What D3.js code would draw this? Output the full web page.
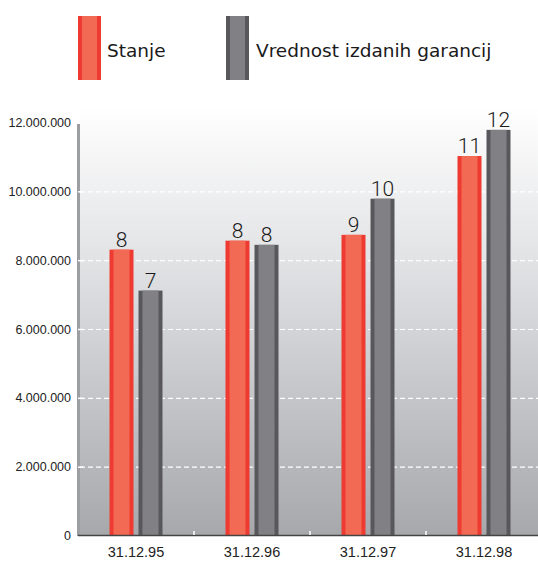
<!DOCTYPE html>
<html><head><meta charset="utf-8">
<script src="https://cdn.jsdelivr.net/npm/d3@7"></script>
<style>body{margin:0;background:#fff}svg{display:block}</style>
</head><body>
<script>
const categories = ["31.12.95","31.12.96","31.12.97","31.12.98"];
const seriesNames = ["Stanje","Vrednost izdanih garancij"];
const stanje = [8320000, 8580000, 8750000, 11040000];
const vrednost = [7130000, 8460000, 9800000, 11800000];
const stanjeLabels = ["8","8","9","11"];
const vrednostLabels = ["7","8","10","12"];
const yTicks = [0,2000000,4000000,6000000,8000000,10000000,12000000];

const W=538,H=561;
const svg=d3.select("body").append("svg").attr("width",W).attr("height",H);
const defs=svg.append("defs");
const g=defs.append("linearGradient").attr("id","bg").attr("x1",0).attr("y1",0).attr("x2",0).attr("y2",1);
g.append("stop").attr("offset","0%").attr("stop-color","#ffffff");
g.append("stop").attr("offset","35%").attr("stop-color","#e2e3e5");
g.append("stop").attr("offset","100%").attr("stop-color","#a7a8ac");

const x0=d3.scaleBand().domain(categories).range([78,542]).paddingInner(0).paddingOuter(0);
const y=d3.scaleLinear().domain([0,12000000]).range([536,123]);

// background
svg.append("rect").attr("x",80).attr("y",108).attr("width",W-80).attr("height",y(0)-108).attr("fill","url(#bg)");

// gridlines
svg.append("g").selectAll("line").data(yTicks.filter(d=>d>0)).join("line")
 .attr("x1",80).attr("x2",W).attr("y1",d=>y(d)).attr("y2",d=>y(d))
 .attr("stroke","#ffffff").attr("stroke-width",1.2).attr("stroke-dasharray","5,3")
 .attr("opacity",d=>d===12000000?0:1);

// y axis labels
const fmt=d=>d===0?"0":d3.format(",")(d).replace(/,/g,".");
svg.append("g").selectAll("text").data(yTicks).join("text")
 .attr("x",71).attr("y",d=>y(d)+4).attr("text-anchor","end")
 .attr("font-family","Liberation Sans, Arial, sans-serif").attr("font-size",12.5).attr("fill","#222")
 .text(fmt);

// bars
const colors=[{dark:"#ee3a31",light:"#f26a53"},{dark:"#58585c",light:"#808085"}];
const series=[stanje,vrednost];
const labels=[stanjeLabels,vrednostLabels];
const barW=24,gap=5;
series.forEach((vals,si)=>{
  const grp=svg.append("g");
  const xs=(c)=>x0(c)+x0.bandwidth()/2-barW-gap/2+si*(barW+gap);
  grp.selectAll("rect.o").data(categories).join("rect")
    .attr("x",c=>xs(c)).attr("y",(c,i)=>y(vals[i])).attr("width",barW)
    .attr("height",(c,i)=>y(0)-y(vals[i])).attr("fill",colors[si].dark);
  grp.selectAll("rect.i").data(categories).join("rect")
    .attr("x",c=>xs(c)+4).attr("y",(c,i)=>y(vals[i])).attr("width",barW-8)
    .attr("height",(c,i)=>y(0)-y(vals[i])).attr("fill",colors[si].light);
  grp.selectAll("text").data(categories).join("text")
    .attr("x",c=>xs(c)+barW/2).attr("y",(c,i)=>y(vals[i])-3)
    .attr("text-anchor","middle").attr("font-family","Roboto, Liberation Sans, sans-serif")
    .attr("font-weight",300)
    .attr("font-size",21).attr("fill","#1a1a1a")
    .text((c,i)=>labels[si][i]);
});

// vertical axis line
svg.append("line").attr("x1",78.5).attr("x2",78.5).attr("y1",124).attr("y2",y(0))
 .attr("stroke","#9d9ea2").attr("stroke-width",3);
// small white ticks at axis
svg.append("g").selectAll("line").data(yTicks.filter(d=>d>0&&d<12000000)).join("line")
 .attr("x1",78).attr("x2",83).attr("y1",d=>y(d)).attr("y2",d=>y(d)).attr("stroke","#fff").attr("stroke-width",1.5);

// baseline
svg.append("line").attr("x1",78).attr("x2",W).attr("y1",y(0)-0.5).attr("y2",y(0)-0.5)
 .attr("stroke","#444").attr("stroke-width",1.5);
// band ticks
svg.append("g").selectAll("line").data(categories.slice(1)).join("line")
 .attr("x1",c=>x0(c)).attr("x2",c=>x0(c)).attr("y1",y(0)-5).attr("y2",y(0)-1)
 .attr("stroke","#fff").attr("stroke-width",1.5);

// x labels
svg.append("g").selectAll("text").data(categories).join("text")
 .attr("x",c=>x0(c)+x0.bandwidth()/2).attr("y",557).attr("text-anchor","middle")
 .attr("font-family","Liberation Sans, Arial, sans-serif").attr("font-size",14.5).attr("fill","#222")
 .text(c=>c);

// legend
const legX=[78,226], legTextX=[107,256];
seriesNames.forEach((n,i)=>{
  svg.append("rect").attr("x",legX[i]).attr("y",16).attr("width",23).attr("height",64).attr("fill",colors[i].dark);
  svg.append("rect").attr("x",legX[i]+4).attr("y",16).attr("width",15).attr("height",64).attr("fill",colors[i].light);
  svg.append("text").attr("x",legTextX[i]).attr("y",57).attr("font-family","DejaVu Sans, sans-serif")
    .attr("font-size",18.5).attr("fill","#1a1a1a").text(n);
});
</script>
</body></html>
